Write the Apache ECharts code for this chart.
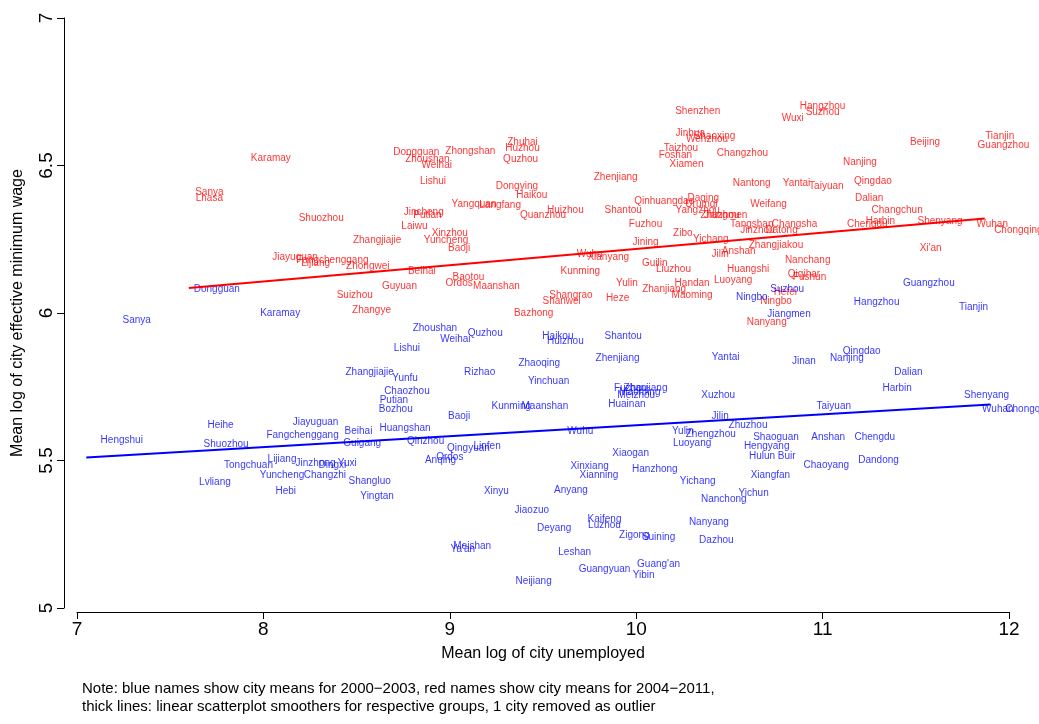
<!DOCTYPE html>
<html>
<head>
<meta charset="utf-8">
<script src="https://cdn.jsdelivr.net/npm/echarts@6/dist/echarts.min.js"></script>
<style>html,body{margin:0;background:#fff}#chart{width:1039px;height:724px}</style>
</head>
<body>
<div id="chart"></div>
<script>
// city means 2004-2011 (red)
var redNames = ['Shenzhen','Hangzhou','Wuxi','Suzhou','Jinhua','Shaoxing','Wenzhou','Tianjin','Guangzhou','Beijing',
  'Zhuhai','Huzhou','Taizhou','Foshan','Changzhou','Xiamen','Nanjing','Dongguan','Zhongshan','Zhoushan','Weihai','Quzhou',
  'Karamay','Lishui','Dongying','Zhenjiang','Nantong','Yantai','Taiyuan','Qingdao','Dalian','Haikou','Sanya','Lhasa',
  'Shuozhou','Jincheng','Putian','Laiwu','Yangquan','Langfang','Daqing','Qinhuangdao','Yangzhou','Weifang','Changchun',
  'Harbin','Shenyang','Wuhan','Chongqing','Chengdu',"Xi'an",'Zhangjiajie','Yuncheng','Jiayuguan','Fangchenggang','Lijiang',
  'Zhongwei','Guyuan','Suizhou','Zhangye','Nanyang','Huizhou','Shantou','Quanzhou','Jiangmen','Fuzhou','Hefei','Luoyang',
  'Urumqi','Tangshan','Zibo','Jining','Baotou','Ordos','Wuhu','Changsha','Zhangjiakou','Huangshi','Qiqihar','Fushun',
  'Xinzhou','Baoji','Maanshan','Yulin','Zhanjiang','Maoming','Bazhong','Shanwei','Jilin','Anshan','Kunming','Guilin',
  'Liuzhou','Nanchang','Datong','Handan','Zhuzhou','Ningbo','Yichang','Jinzhou','Xianyang','Beihai','Shangrao','Heze'];
var redX = [10.33,11.00,10.84,11.00,10.29,10.42,10.38,11.95,11.97,11.55,
  9.39,9.39,10.24,10.21,10.57,10.27,11.20,8.82,9.11,8.88,8.93,9.38,
  8.04,8.91,9.36,9.89,10.62,10.86,11.02,11.27,11.25,9.44,7.71,7.71,
  8.31,8.86,8.88,8.81,9.13,9.27,10.36,10.15,10.33,10.71,11.40,
  11.31,11.63,11.91,12.05,11.24,11.58,8.61,8.98,8.17,8.37,8.28,
  8.56,8.73,8.49,8.58,10.70,9.62,9.93,9.50,10.48,10.05,10.80,10.52,
  10.35,10.62,10.25,10.05,9.10,9.05,9.75,10.85,10.75,10.60,10.90,10.93,
  9.00,9.05,9.25,9.95,10.15,10.30,9.45,9.60,10.45,10.55,9.70,10.10,
  10.20,10.92,10.78,10.30,10.45,10.75,10.40,10.65,9.85,8.85,9.65,9.90];
var redY = [6.685,6.70,6.66,6.68,6.61,6.60,6.59,6.60,6.57,6.58,
  6.58,6.56,6.56,6.535,6.54,6.505,6.51,6.545,6.55,6.52,6.50,6.52,
  6.525,6.445,6.43,6.46,6.44,6.44,6.43,6.445,6.39,6.40,6.41,6.39,
  6.32,6.34,6.33,6.295,6.37,6.365,6.39,6.38,6.35,6.37,6.35,
  6.31,6.31,6.30,6.28,6.30,6.22,6.245,6.245,6.19,6.18,6.17,
  6.16,6.09,6.06,6.01,5.97,6.35,6.35,6.33,6.33,6.30,6.07,6.11,
  6.37,6.30,6.27,6.24,6.12,6.10,6.20,6.30,6.23,6.15,6.13,6.12,
  6.27,6.22,6.09,6.10,6.08,6.06,6.00,6.04,6.20,6.21,6.14,6.17,
  6.15,6.18,6.28,6.10,6.33,6.04,6.25,6.28,6.19,6.14,6.06,6.05];
// city means 2000-2003 (blue)
var blueNames = ['Sanya','Karamay','Zhoushan','Weihai','Quzhou','Lishui','Huizhou','Shantou','Haikou','Zhangjiajie','Rizhao',
  'Zhaoqing','Zhenjiang','Yantai','Jinan','Nanjing','Qingdao','Dalian','Harbin','Shenyang','Wuhan','Chongqing','Yinchuan',
  'Yunfu','Chaozhou','Putian','Bozhou','Kunming','Maanshan','Xuzhou','Taiyuan','Heihe','Hengshui','Shuozhou','Fangchenggang',
  'Jiayuguan','Guigang','Beihai','Huangshan','Qinzhou','Anshan','Chengdu','Dandong','Chaoyang','Hulun Buir','Tongchuan',
  'Lijiang','Jinzhong','Dingxi','Yuxi','Yuncheng','Changzhi','Lvliang','Hebi','Shangluo','Yingtan','Xinyu','Xiangfan',
  'Nanchong','Yichun','Yichang','Xiaogan','Jiaozuo','Kaifeng','Luzhou','Deyang','Neijiang','Meishan',"Ya'an",'Leshan',
  'Zigong','Suining','Dazhou',"Guang'an",'Guangyuan','Yibin','Nanyang','Dongguan','Guangzhou','Hangzhou','Tianjin','Suzhou',
  'Ningbo','Jiangmen','Fuzhou','Zhanjiang','Meizhou','Maoming','Huainan','Zhuzhou','Qingyuan','Anyang','Xinxiang','Linfen',
  'Hanzhong','Baoji','Anqing','Ordos','Yulin','Jilin','Wuhu','Xianning','Luoyang','Zhengzhou','Shaoguan','Hengyang'];
var blueX = [7.32,8.09,8.92,9.03,9.19,8.77,9.62,9.93,9.58,8.57,9.16,
  9.48,9.90,10.48,10.90,11.13,11.21,11.46,11.40,11.88,11.94,12.11,9.53,
  8.76,8.77,8.70,8.71,9.33,9.51,10.44,11.06,7.77,7.24,7.80,8.21,
  8.28,8.53,8.51,8.76,8.87,11.03,11.28,11.30,11.02,10.73,7.92,
  8.10,8.28,8.37,8.45,8.10,8.33,7.74,8.12,8.57,8.61,9.25,10.72,
  10.47,10.63,10.33,9.97,9.44,9.83,9.83,9.56,9.45,9.12,9.07,9.67,
  9.99,10.12,10.43,10.12,9.83,10.04,10.39,7.75,11.57,11.29,11.81,10.81,
  10.62,10.82,9.97,10.05,10.00,10.02,9.95,10.60,9.10,9.65,9.75,9.20,
  10.10,9.05,8.95,9.00,10.25,10.45,9.70,9.80,10.30,10.40,10.75,10.70];
var blueY = [5.975,6.00,5.95,5.91,5.93,5.88,5.905,5.92,5.92,5.80,5.80,
  5.83,5.845,5.85,5.835,5.845,5.87,5.80,5.745,5.72,5.675,5.675,5.77,
  5.78,5.735,5.705,5.675,5.685,5.685,5.72,5.685,5.62,5.57,5.555,5.585,
  5.63,5.56,5.60,5.61,5.565,5.58,5.58,5.50,5.485,5.515,5.485,
  5.505,5.49,5.485,5.49,5.45,5.45,5.425,5.395,5.43,5.38,5.395,5.45,
  5.37,5.39,5.43,5.525,5.33,5.30,5.28,5.27,5.09,5.21,5.20,5.19,
  5.245,5.24,5.23,5.15,5.13,5.11,5.29,6.08,6.10,6.035,6.02,6.08,
  6.055,5.995,5.745,5.745,5.72,5.73,5.69,5.62,5.54,5.40,5.48,5.55,
  5.47,5.65,5.50,5.51,5.60,5.65,5.60,5.45,5.56,5.59,5.58,5.55];
// linear smoothers
var redFit = [[7.6, 6.085], [11.87, 6.32]];
var blueFit = [[7.05, 5.51], [11.9, 5.69]];

function pts(names, xs, ys) {
  return names.map(function (n, i) { return [xs[i], ys[i], n]; });
}
var font = 'Liberation Sans, Arial, sans-serif';
function cityLabels(data, color) {
  return {
    type: 'scatter', data: data, symbolSize: 1, itemStyle: {color: 'rgba(0,0,0,0)'},
    clip: false, silent: true,
    label: {show: true, position: 'inside', formatter: function (p) { return p.data[2]; },
      color: color, fontSize: 10, fontFamily: font},
    labelLayout: {hideOverlap: false}
  };
}
function fitLine(data, color) {
  return {type: 'line', data: data, symbol: 'none', silent: true,
    lineStyle: {color: color, width: 2}};
}

var myChart = echarts.init(document.getElementById('chart'));
var option = {
  backgroundColor: '#fff',
  animation: false,
  grid: {left: 77, right: 30, top: 18, bottom: 116},
  xAxis: {
    type: 'value', min: 7, max: 12, interval: 1, offset: 4,
    name: 'Mean log of city unemployed', nameLocation: 'middle', nameGap: 34,
    nameTextStyle: {fontSize: 16, fontFamily: font, color: '#000'},
    axisLine: {show: true, lineStyle: {color: '#000'}},
    axisTick: {show: true, length: 7, lineStyle: {color: '#000'}},
    axisLabel: {fontSize: 19, fontFamily: font, color: '#000', margin: 8},
    splitLine: {show: false}
  },
  yAxis: {
    type: 'value', min: 5, max: 7, interval: 0.5, offset: 13,
    name: 'Mean log of city effective minimum wage', nameLocation: 'middle', nameGap: 38,
    nameTextStyle: {fontSize: 16, fontFamily: font, color: '#000'},
    axisLine: {show: true, lineStyle: {color: '#000'}},
    axisTick: {show: true, length: 7, lineStyle: {color: '#000'}},
    axisLabel: {fontSize: 19, fontFamily: font, color: '#000', rotate: 90, margin: 8,
      formatter: function (v) { return String(v); }},
    splitLine: {show: false}
  },
  graphic: [{
    type: 'text', left: 82, top: 680,
    style: {text: 'Note: blue names show city means for 2000\u22122003, red names show city means for 2004\u22122011,\nthick lines: linear scatterplot smoothers for respective groups, 1 city removed as outlier',
      font: '15px ' + font, fill: '#000', lineHeight: 18}
  }],
  series: [
    cityLabels(pts(redNames, redX, redY), '#ff0000'),
    cityLabels(pts(blueNames, blueX, blueY), '#0000ff'),
    fitLine(redFit, '#ff0000'),
    fitLine(blueFit, '#0000ff')
  ]
};
myChart.setOption(option);
</script>
</body>
</html>
